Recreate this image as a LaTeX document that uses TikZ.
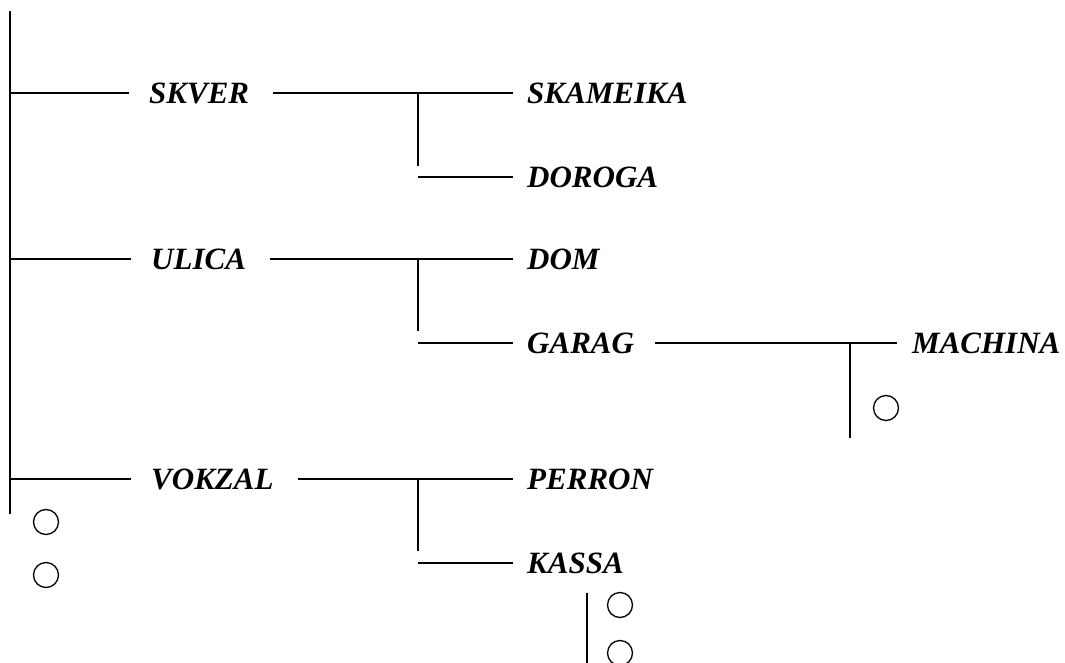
\documentclass[tikz,border=0pt]{standalone}
\usepackage{fontspec}
\setmainfont{Liberation Serif}
\begin{document}
\begin{tikzpicture}[x=1pt,y=-1pt,
  lbl/.style={anchor=west,inner sep=0pt,font=\fontsize{31}{31}\selectfont\bfseries\itshape},
  wire/.style={line width=1.6pt},
  circ/.style={draw,circle,line width=1.3pt,minimum size=25pt,inner sep=0pt}]
\useasboundingbox (0,0) rectangle (1065,663);
% trunk
\coordinate (top) at (10,11);
\coordinate (bot) at (10,514);
\draw[wire] (top) -- (bot);
% level 1
\node[lbl] (skver) at (149,93) {SKVER};
\node[lbl] (ulica) at (151,259) {ULICA};
\node[lbl] (vokzal) at (151,479) {VOKZAL};
% level 2
\node[lbl] (skameika) at (527,93) {SKAMEIKA};
\node[lbl] (doroga) at (527,177) {DOROGA};
\node[lbl] (dom) at (527,259) {DOM};
\node[lbl] (garag) at (527,343) {GARAG};
\node[lbl] (perron) at (527,479) {PERRON};
\node[lbl] (kassa) at (527,563) {KASSA};
% level 3
\node[lbl] (machina) at (912,343) {MACHINA};
% branch points
\coordinate (b1) at (418,93);  \coordinate (b1e) at (418,166);
\coordinate (b2) at (418,259); \coordinate (b2e) at (418,331);
\coordinate (b3) at (418,479); \coordinate (b3e) at (418,551);
\coordinate (b4) at (850,343); \coordinate (b4e) at (850,438);
\coordinate (b5) at (587,593); \coordinate (b5e) at (587,663);
% trunk to level 1
\foreach \n in {skver,ulica,vokzal}
  \draw[wire] (top |- \n.west) -- ([xshift=-20pt]\n.west);
% level 1 to level 2
\draw[wire] ([xshift=24pt]skver.east) -- ([xshift=-14pt]skameika.west);
\draw[wire] (b1) -- (b1e);
\draw[wire] (b1 |- doroga.west) -- ([xshift=-14pt]doroga.west);
\draw[wire] ([xshift=24pt]ulica.east) -- ([xshift=-14pt]dom.west);
\draw[wire] (b2) -- (b2e);
\draw[wire] (b2 |- garag.west) -- ([xshift=-14pt]garag.west);
\draw[wire] ([xshift=24pt]vokzal.east) -- ([xshift=-14pt]perron.west);
\draw[wire] (b3) -- (b3e);
\draw[wire] (b3 |- kassa.west) -- ([xshift=-14pt]kassa.west);
% level 2 to level 3
\draw[wire] ([xshift=21pt]garag.east) -- ([xshift=-15pt]machina.west);
\draw[wire] (b4) -- (b4e);
\draw[wire] (b5) -- (b5e);
% circles
\node[circ] (c1) at (886,408) {};
\node[circ] (c2) at (46,522) {};
\node[circ] (c3) at (46,575) {};
\node[circ] (c4) at (620,605) {};
\node[circ] (c5) at (620,653) {};
\end{tikzpicture}
\end{document}
